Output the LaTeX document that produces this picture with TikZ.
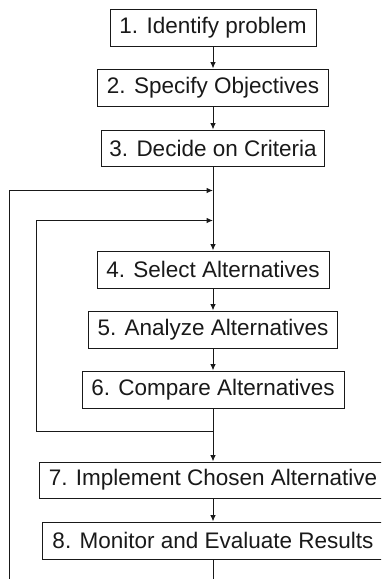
\documentclass[tikz,border=0pt]{standalone}
\usepackage{fontspec}
\setmainfont{Liberation Sans}
\usetikzlibrary{arrows.meta}
\begin{document}
\begin{tikzpicture}[x=1pt,y=-1pt,
  stepbox/.style={draw=black!90,line width=1pt,minimum height=37pt,inner sep=0pt,
    font=\fontsize{22.5}{26}\selectfont,text=black!90},
  conn/.style={draw=black!90,line width=1pt},
  arr/.style={conn,-{Latex[length=6.5pt,width=5.5pt]}}]
\clip (0,0) rectangle (381,579);
\node[stepbox,minimum width=206pt] (b1) at (213,27.5) {1. Identify problem};
\node[stepbox,minimum width=231pt] (b2) at (213,87.5) {2. Specify Objectives};
\node[stepbox,minimum width=223pt,minimum height=36pt] (b3) at (213,148) {3. Decide on Criteria};
\node[stepbox,minimum width=232pt] (b4) at (213,269.5) {4. Select Alternatives};
\node[stepbox,minimum width=249pt] (b5) at (213,329.5) {5. Analyze Alternatives};
\node[stepbox,minimum width=262pt] (b6) at (213,389.5) {6. Compare Alternatives};
\node[stepbox,minimum width=348pt,minimum height=36pt] (b7) at (213,480) {7. Implement Chosen Alternative};
\node[stepbox,minimum width=342pt] (b8) at (213,540.5) {8. Monitor and Evaluate Results};
\coordinate (j1) at (213,190.5);
\coordinate (j2) at (213,220.5);
\coordinate (j3) at (213,431);
\coordinate (k3) at (36,431);
\coordinate (lb) at (9,585);
\coordinate (e8) at (213,585);
\draw[arr] (b1) -- (b2);
\draw[arr] (b2) -- (b3);
\draw[arr] (b3) -- (b4);
\draw[arr] (b4) -- (b5);
\draw[arr] (b5) -- (b6);
\draw[arr] (b6) -- (b7);
\draw[arr] (b7) -- (b8);
\draw[conn] (b8) -- (e8);
\draw[arr] (lb) |- (j1);
\draw[arr] (j3) -- (k3) |- (j2);
\end{tikzpicture}
\end{document}
